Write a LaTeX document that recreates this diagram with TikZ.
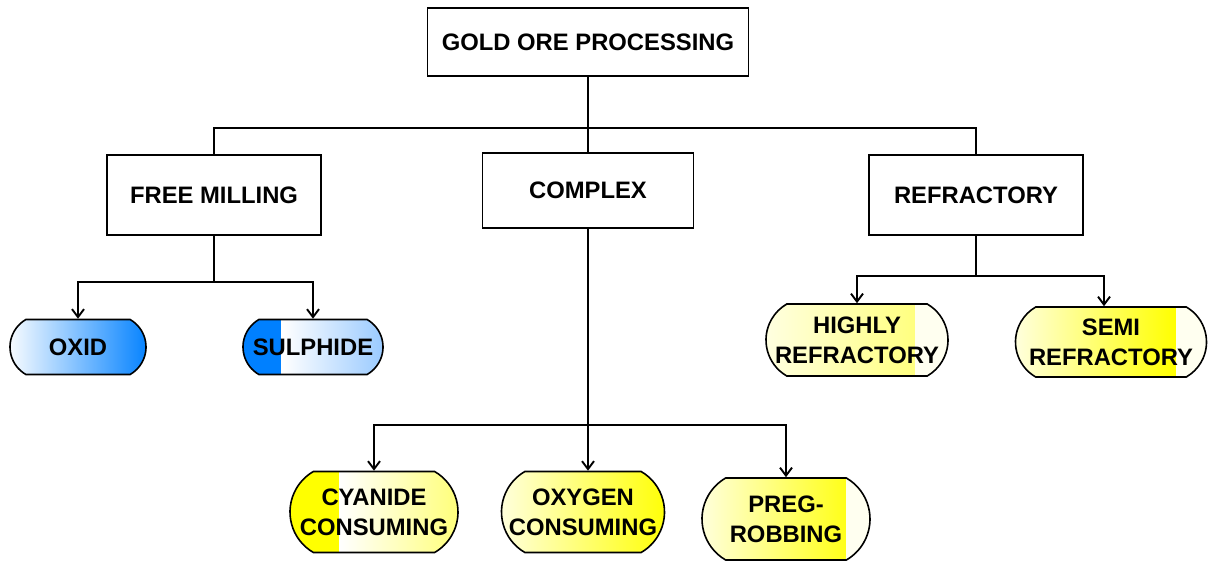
\documentclass[tikz,border=0pt]{standalone}
\usepackage{fontspec}
\setmainfont{Liberation Sans}
\usetikzlibrary{arrows.meta, shapes.misc, calc}

\definecolor{oreblue}{RGB}{0,128,255}
\definecolor{paleblue}{RGB}{150,200,255}
\definecolor{oreyellow}{RGB}{255,255,0}
\definecolor{paleyellow}{RGB}{255,255,228}
\definecolor{oreivory}{RGB}{255,255,240}

\begin{document}
\begin{tikzpicture}[%
        x=1pt, y=-1pt,
        >={Straight Barb[length=8pt,width=12pt]},
        every node/.style={font=\fontsize{23.8}{30}\selectfont\bfseries, align=center},
        box/.style={draw, line width=1.6pt, inner sep=0pt},
        leaf/.style={draw, line width=1.6pt, rounded rectangle,
            rounded rectangle arc length=120, inner sep=0pt},
        % two coloured bands inside a leaf, split at a fraction of its width
        split fill/.style n args={3}{path picture={
            \coordinate (pw) at (path picture bounding box.south west);
            \coordinate (pe) at (path picture bounding box.north east);
            \coordinate (pm) at ($(pw)!#3!(pw -| pe)$);
            \path[#1] (pw) rectangle (pm |- pe);
            \path[#2] (pm) rectangle (pe);
        }},
        link/.style={line width=1.9pt}
    ]
    \useasboundingbox (0,0) rectangle (1208,563);

    % --- Main classes ---
    \node[box, minimum width=321pt, minimum height=68pt] (gold) at (588,42) {GOLD ORE PROCESSING};
    \node[box, minimum width=214pt, minimum height=80pt] (free) at (214,195) {FREE MILLING};
    \node[box, minimum width=211pt, minimum height=75pt] (complex) at (588,190.5) {COMPLEX};
    \node[box, minimum width=214pt, minimum height=80pt] (refr) at (976,195) {REFRACTORY};

    \draw[link] (gold.south) -- ++(0,51) -| (free.north);
    \draw[link] (gold.south) -- ++(0,51) -| (refr.north);
    \draw[link] (gold.south) -- (complex.north);

    % --- Free milling ores ---
    \node[leaf, minimum width=136pt, minimum height=55pt,
        split fill={left color=white, right color=oreblue}{fill=oreblue}{1}] (oxid) at (78,347) {OXID};
    \node[leaf, minimum width=140pt, minimum height=55pt,
        split fill={fill=oreblue}{left color=white, right color=paleblue}{0.29}] (sulph) at (313,347) {SULPHIDE};

    \draw[link,->] (free.south) -- ++(0,46) -| (oxid.north);
    \draw[link,->] (free.south) -- ++(0,46) -| (sulph.north);

    % --- Refractory ores ---
    \node[leaf, minimum width=182pt, minimum height=72pt,
        split fill={left color=paleyellow, right color=oreyellow!50!white}{fill=oreivory}{0.80}] (highly) at (857,340) {HIGHLY\\REFRACTORY};
    \node[leaf, minimum width=191pt, minimum height=70pt,
        split fill={left color=paleyellow, right color=oreyellow}{fill=oreivory}{0.82}] (semi) at (1111,342) {SEMI\\REFRACTORY};

    \draw[link,->] (refr.south) -- ++(0,40) -| (highly.north);
    \draw[link,->] (refr.south) -- ++(0,40) -| ([xshift=-7pt]semi.north);

    % --- Complex ores ---
    \node[leaf, minimum width=168pt, minimum height=81pt,
        split fill={fill=oreyellow}{left color=white, right color=oreyellow!55!white}{0.31}] (cyan) at (374,512) {CYANIDE\\CONSUMING};
    \node[leaf, minimum width=163pt, minimum height=81pt,
        split fill={left color=paleyellow, right color=oreyellow}{fill=oreyellow}{1}] (oxy) at (583,512) {OXYGEN\\CONSUMING};
    \node[leaf, minimum width=168pt, minimum height=82pt,
        split fill={left color=paleyellow, right color=oreyellow!90!white}{fill=oreivory}{0.83}] (preg) at (786,519) {PREG-\\ROBBING};

    \draw[link,->] (complex.south) -- ++(0,196) -| (cyan.north);
    \draw[link,->] (complex.south) -- (complex.south |- oxy.north);
    \draw[link,->] (complex.south) -- ++(0,196) -| (preg.north);
\end{tikzpicture}
\end{document}
